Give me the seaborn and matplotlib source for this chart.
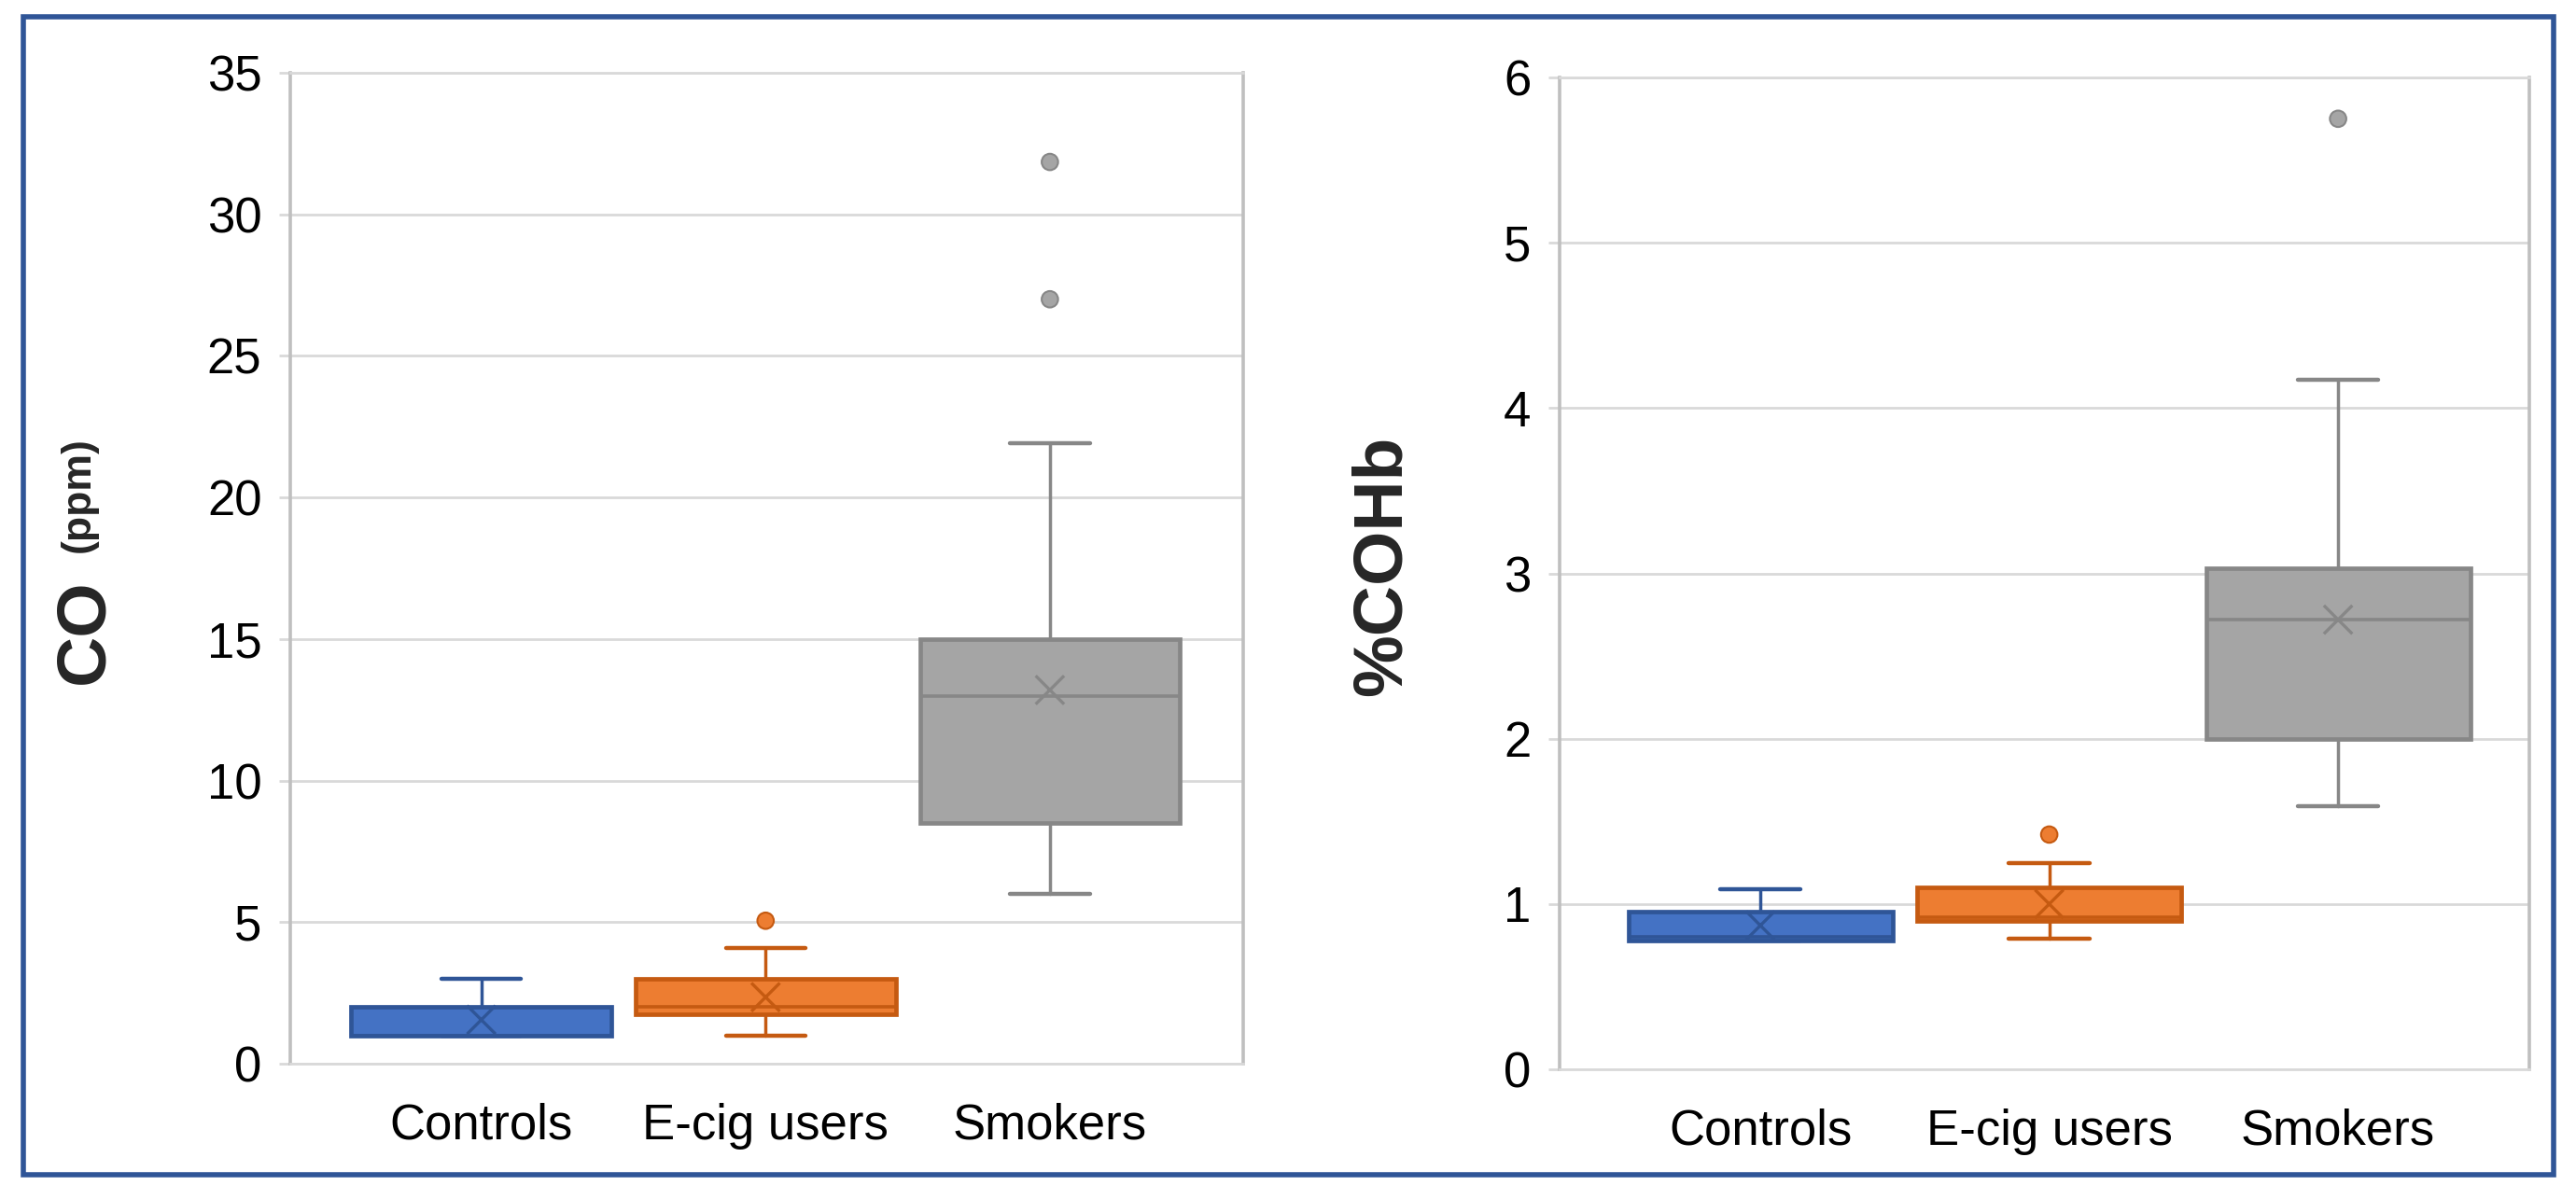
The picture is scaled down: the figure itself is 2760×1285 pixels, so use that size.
import numpy as np
import pandas as pd
import seaborn as sns
import matplotlib.pyplot as plt
from matplotlib.patches import Rectangle

# values (Excel style box & whisker)
groups = ['Controls', 'E-cig users', 'Smokers']

co_q1 = [1.0, 1.75, 8.5]
co_med = [1.0, 2.0, 13.0]
co_q3 = [2.0, 3.0, 15.0]
co_lo = [1.0, 1.0, 6.0]
co_hi = [3.0, 4.1, 21.9]
co_mean = [1.55, 2.35, 13.2]
co_out_group = ['E-cig users', 'Smokers', 'Smokers']
co_out_val = [5.05, 27.0, 31.85]

hb_q1 = [0.78, 0.90, 2.0]
hb_med = [0.80, 0.92, 2.72]
hb_q3 = [0.955, 1.10, 3.03]
hb_lo = [0.78, 0.79, 1.59]
hb_hi = [1.09, 1.25, 4.17]
hb_mean = [0.87, 1.0, 2.72]
hb_out_group = ['E-cig users', 'Smokers']
hb_out_val = [1.42, 5.75]

fills = ['#4472C4', '#ED7D31', '#A5A5A5']
edges = ['#2F5597', '#C55A11', '#878787']

sns.set_theme(style="white")
plt.rcParams['font.family'] = ['Liberation Sans', 'DejaVu Sans']


def draw_panel(ax, q1, med, q3, lo, hi, mean, out_group, out_val, ymax, ystep, xlim):
    stats = []
    for i in range(len(groups)):
        stats.append(dict(label=groups[i], q1=q1[i], med=med[i], q3=q3[i],
                          whislo=lo[i], whishi=hi[i], fliers=[]))
    pos = list(range(len(groups)))
    bp = ax.bxp(stats, positions=pos, widths=0.915, capwidths=0.28,
                patch_artist=True, showfliers=False, manage_ticks=False)
    for i in range(len(groups)):
        bp['boxes'][i].set_facecolor(fills[i])
        bp['boxes'][i].set_edgecolor(edges[i])
        bp['boxes'][i].set_linewidth(3.4)
        bp['boxes'][i].set_zorder(3)
        bp['medians'][i].set_color(edges[i])
        bp['medians'][i].set_linewidth(2.6)
        bp['medians'][i].set_zorder(4)
        for k in (2 * i, 2 * i + 1):
            bp['whiskers'][k].set_color(edges[i])
            bp['whiskers'][k].set_linewidth(2.5)
            bp['caps'][k].set_color(edges[i])
            bp['caps'][k].set_linewidth(3.2)

    means = pd.DataFrame({'pos': pos, 'mean': mean, 'group': groups})
    sns.scatterplot(data=means, x='pos', y='mean', hue='group',
                    palette=dict(zip(groups, edges)), marker='x', s=480,
                    linewidth=2.4, legend=False, ax=ax, zorder=5)

    outl = pd.DataFrame({'group': out_group, 'val': out_val})
    outl['pos'] = [groups.index(g) for g in out_group]
    sns.scatterplot(data=outl, x='pos', y='val', hue='group',
                    palette=dict(zip(groups, fills)), s=160, linewidth=1.5,
                    edgecolor=[edges[groups.index(g)] for g in out_group],
                    legend=False, ax=ax, zorder=5)

    ax.set_xlim(*xlim)
    ax.set_ylim(0, ymax)
    ax.set_yticks(np.arange(0, ymax + ystep / 2, ystep))
    ax.set_yticklabels([f'{v:g}' for v in np.arange(0, ymax + ystep / 2, ystep)])
    ax.set_xticks(pos)
    ax.set_xticklabels(groups)
    ax.set_xlabel('')
    ax.set_ylabel('')
    ax.yaxis.grid(True, color='#D9D9D9', linewidth=2)
    ax.set_axisbelow(True)
    ax.tick_params(axis='y', which='major', left=True, length=9, width=2,
                   color='#D9D9D9', pad=13, labelsize=38, labelcolor='black')
    ax.tick_params(axis='x', length=0, pad=30, labelsize=38, labelcolor='black')
    for side in ('left', 'right'):
        ax.spines[side].set_color('#BFBFBF')
        ax.spines[side].set_linewidth(2.6)
    for side in ('top', 'bottom'):
        ax.spines[side].set_color('#D9D9D9')
        ax.spines[side].set_linewidth(2)


fig = plt.figure(figsize=(27.6, 12.85), dpi=100)

ax1 = fig.add_axes([311 / 2760, 1 - 1140 / 1285, 1021 / 2760, 1062 / 1285])
draw_panel(ax1, co_q1, co_med, co_q3, co_lo, co_hi, co_mean,
           co_out_group, co_out_val, 35, 5, (-0.672, 2.68))

ax2 = fig.add_axes([1671 / 2760, 1 - 1146 / 1285, 1039 / 2760, 1063 / 1285])
draw_panel(ax2, hb_q1, hb_med, hb_q3, hb_lo, hb_hi, hb_mean,
           hb_out_group, hb_out_val, 6, 1, (-0.695, 2.662))

# axis titles
fig.text(91 / 2760, 1 - 677 / 1285, 'CO', rotation=90, ha='center', va='center',
         fontsize=54, fontweight='bold')
fig.text(84 / 2760, 1 - 530 / 1285, '(ppm)', rotation=90, ha='center', va='center',
         fontsize=32, fontweight='bold')
fig.text(1481 / 2760, 1 - 606 / 1285, '%COHb', rotation=90, ha='center', va='center',
         fontsize=54, fontweight='bold')

# outer frame
fig.patches.append(Rectangle((25 / 2760, 1 - 1259 / 1285), (2736 - 25) / 2760,
                             (1259 - 18) / 1285, transform=fig.transFigure,
                             fill=False, edgecolor='#2F5597', linewidth=4))

fig.savefig('out.png', dpi=100)
